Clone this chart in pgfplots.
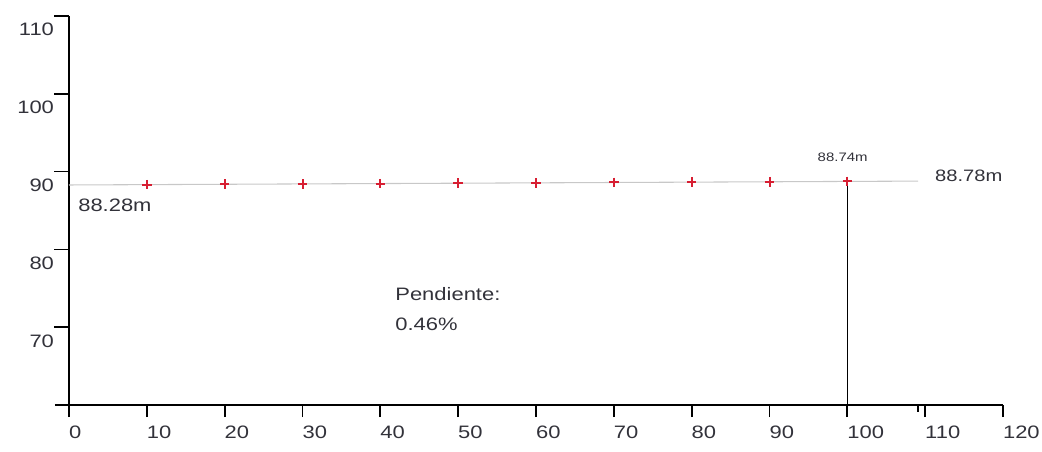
\documentclass[border=0pt]{standalone}
\usepackage{pgfplots}
\pgfplotsset{compat=1.18}
\usepackage{fontspec}
\setmainfont[FakeStretch=1.22]{Liberation Sans}
\definecolor{txt}{RGB}{50,50,58}
\definecolor{mk}{RGB}{215,30,50}
\definecolor{ln}{RGB}{200,200,200}
\begin{document}
\begin{tikzpicture}
\useasboundingbox (-51.75pt,-34.5pt) rectangle (729.75pt,303.75pt);
\begin{axis}[
  at={(0,0)}, anchor=south west,
  scale only axis, width=700.5pt, height=291.75pt,
  xmin=0, xmax=120, ymin=60, ymax=110,
  axis x line=bottom, axis y line=left,
  axis line style={-, black, line width=1.3pt},
  clip=false,
  xtick={0,10,...,120}, ytick={70,80,90,100,110},
  tick align=outside,
  xtick style={black, line width=1.3pt, /pgfplots/major tick length=9pt},
  ytick style={black, line width=1.3pt, /pgfplots/major tick length=11pt},
  extra x ticks={109.1},
  extra x tick labels={},
  extra x tick style={xtick style={/pgfplots/major tick length=5pt}},
  /pgf/number format/assume math mode=true,
  ticklabel style={font=\fontsize{13.5}{15}\selectfont, text=txt},
  xticklabel style={anchor=north west, xshift=-3.5pt, yshift=-8pt},
  yticklabel style={anchor=north east, xshift=-3.5pt, yshift=-2pt},
]
\addplot[ln, line width=0.8pt] coordinates {(0,88.28) (109.1,88.78)};
\addplot[mk, only marks, mark=+, mark size=3.6pt, line width=1.5pt] coordinates {
 (10,88.33) (20,88.37) (30,88.42) (40,88.46) (50,88.51)
 (60,88.56) (70,88.60) (80,88.65) (90,88.69) (100,88.74)};
\addplot[black, line width=1.2pt] coordinates {(100,60) (100,88.74)};
\addplot[black, line width=1.3pt] coordinates {(-1.8,60) (0,60)};
\addplot[black, line width=1.3pt] coordinates {(0,60) (0,58.7)};
\node[anchor=center, text=txt, font=\fontsize{13.5}{15}\selectfont] at (axis cs:5.9,85.7) {88.28m};
\node[anchor=center, text=txt, font=\fontsize{9.2}{10}\selectfont] at (axis cs:99.4,91.8) {88.74m};
\node[anchor=center, text=txt, font=\fontsize{12.4}{14}\selectfont] at (axis cs:115.6,89.4) {88.78m};
\node[anchor=north west, text=txt, align=left, inner sep=0pt, font=\fontsize{13.5}{22.5}\selectfont] at (axis cs:41.9,75.1) {Pendiente:\\0.46\%};
\end{axis}
\end{tikzpicture}
\end{document}
